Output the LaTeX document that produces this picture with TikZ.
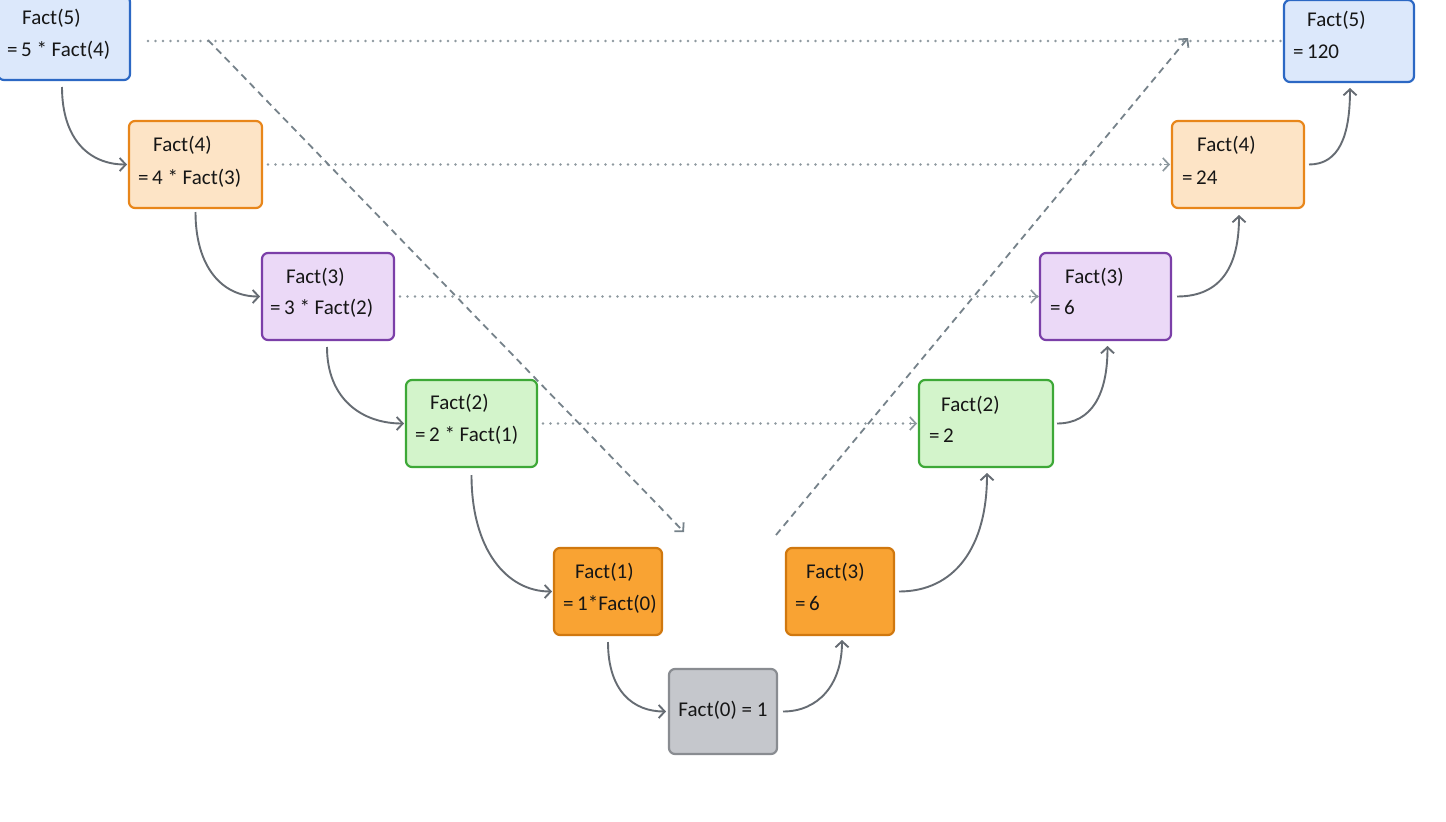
\documentclass[tikz,border=0pt]{standalone}
\usepackage{fontspec}
\setmainfont{Carlito}
\usetikzlibrary{arrows.meta,backgrounds}
\definecolor{bluefill}{HTML}{DCE8FB}
\definecolor{blueline}{HTML}{2C68C4}
\definecolor{lofill}{HTML}{FDE4C6}
\definecolor{loline}{HTML}{E8861A}
\definecolor{pufill}{HTML}{EBD9F7}
\definecolor{puline}{HTML}{7B3FA8}
\definecolor{grfill}{HTML}{D3F4CB}
\definecolor{grline}{HTML}{3DA837}
\definecolor{orfill}{HTML}{F9A333}
\definecolor{orline}{HTML}{D0780F}
\definecolor{gyfill}{HTML}{C5C7CC}
\definecolor{gyline}{HTML}{898C91}
\definecolor{arr}{HTML}{666C73}
\definecolor{dotc}{HTML}{8E999F}
\definecolor{dashc}{HTML}{76828A}
\definecolor{txt}{HTML}{161616}
\tikzset{
  box/.style={rectangle, rounded corners=6pt, line width=2.2pt, inner sep=0pt, outer sep=0pt},
  bluebox/.style={box, fill=bluefill, draw=blueline},
  lobox/.style={box, fill=lofill, draw=loline},
  pubox/.style={box, fill=pufill, draw=puline},
  grbox/.style={box, fill=grfill, draw=grline},
  orbox/.style={box, fill=orfill, draw=orline},
  gybox/.style={box, fill=gyfill, draw=gyline},
  txtline/.style={anchor=west, inner sep=0pt, text=txt, font=\fontsize{21}{25}\selectfont, text height=14pt, text depth=5pt},
  tip/.style={-{Straight Barb[length=6pt,width=13pt]}},
  flow/.style={draw=arr, line width=1.9pt, tip},
  dotline/.style={draw=dotc, line width=2.8pt, line cap=round, dash pattern=on 0pt off 7.5pt},
  dashline/.style={draw=dashc, line width=1.8pt, dash pattern=on 7pt off 5pt},
}
\begin{document}
\begin{tikzpicture}[x=1pt,y=-1pt]
\useasboundingbox (0,0) rectangle (1446,822);
\clip (0,0) rectangle (1446,822);
% boxes
\node[bluebox, minimum width=132pt, minimum height=84pt] (L5) at (64,38) {};
\node[lobox,   minimum width=133pt, minimum height=87pt] (L4) at (195.5,164.5) {};
\node[pubox,   minimum width=132pt, minimum height=87pt] (L3) at (328,296.5) {};
\node[grbox,   minimum width=131pt, minimum height=87pt] (L2) at (471.5,423.5) {};
\node[orbox,   minimum width=108pt, minimum height=87pt] (L1) at (608,591.5) {};
\node[gybox,   minimum width=108pt, minimum height=85pt] (B)  at (723,711.5) {};
\node[orbox,   minimum width=108pt, minimum height=87pt] (R1) at (840,591.5) {};
\node[grbox,   minimum width=134pt, minimum height=87pt] (R2) at (986,423.5) {};
\node[pubox,   minimum width=131pt, minimum height=87pt] (R3) at (1105.5,296.5) {};
\node[lobox,   minimum width=132pt, minimum height=87pt] (R4) at (1238,164.5) {};
\node[bluebox, minimum width=130pt, minimum height=82pt] (R5) at (1349,41) {};
% texts
\node[txtline] (t5a) at (22,20) {Fact(5)};
\node[txtline] (t5b) at (7,52) {=\,5 * Fact(4)};
\node[txtline] (t4a) at (153,147) {Fact(4)};
\node[txtline] (t4b) at (138,180) {=\,4 * Fact(3)};
\node[txtline] (t3a) at (286,279) {Fact(3)};
\node[txtline] (t3b) at (270,310) {=\,3 * Fact(2)};
\node[txtline] (t2a) at (430,405) {Fact(2)};
\node[txtline] (t2b) at (415,437) {=\,2 * Fact(1)};
\node[txtline] (t1a) at (575,574) {Fact(1)};
\node[txtline] (t1b) at (563,606) {=\,1*Fact(0)};
\node[txtline, anchor=center] (t0) at (B.center) {Fact(0) = 1};
\node[txtline] (u1a) at (806,574) {Fact(3)};
\node[txtline] (u1b) at (795,606) {=\,6};
\node[txtline] (u2a) at (941,407) {Fact(2)};
\node[txtline] (u2b) at (929,438) {=\,2};
\node[txtline] (u3a) at (1065,279) {Fact(3)};
\node[txtline] (u3b) at (1050,310) {=\,6};
\node[txtline] (u4a) at (1197,147) {Fact(4)};
\node[txtline] (u4b) at (1182,180) {=\,24};
\node[txtline] (u5a) at (1307,22) {Fact(5)};
\node[txtline] (u5b) at (1293,54) {=\,120};
% helper coordinates
\coordinate (d5s) at ([xshift=18pt]L5.east);
\coordinate (d5e) at ([xshift=-3pt]R5.west);
\coordinate (g1s) at (208,40);
\coordinate (g1e) at ([xshift=22pt,yshift=16pt]L1.north east);
\coordinate (g2s) at ([xshift=-10pt,yshift=13pt]R1.north west);
\coordinate (g2e) at ([xshift=-96pt,yshift=3pt]R5.west);
\begin{pgfonlayer}{background}
\fill[white] (0,0) rectangle (1446,822);
% dotted horizontals
\draw[dotline] (d5s |- d5e) -- (d5e);
\draw[dotline] ([xshift=6pt]L4.east) -- ([xshift=-2pt]R4.west);
\draw[dotline] ([xshift=6pt]L3.east) -- ([xshift=-2pt]R3.west);
\draw[dotline] ([xshift=6pt]L2.east) -- ([xshift=-2pt]R2.west);
\draw[draw=dotc, line width=1.7pt, tip] ([xshift=-8pt]R4.west) -- ([xshift=-2pt]R4.west);
\draw[draw=dotc, line width=1.7pt, tip] ([xshift=-8pt]R3.west) -- ([xshift=-2pt]R3.west);
\draw[draw=dotc, line width=1.7pt, tip] ([xshift=-8pt]R2.west) -- ([xshift=-2pt]R2.west);
% dashed diagonals
\draw[dashline, tip] (g1s) -- (g1e);
\draw[dashline, tip] (g2s) -- (g2e);
\end{pgfonlayer}
% flow arrows, left descent
\draw[flow] ([xshift=-2pt,yshift=-7pt]L5.south) .. controls +(0,52) and +(-38,0) .. ([xshift=-2pt]L4.west);
\draw[flow] ([yshift=-4pt]L4.south) .. controls +(0,55) and +(-38,0) .. ([xshift=-2pt]L3.west);
\draw[flow] ([xshift=-1pt,yshift=-7pt]L3.south) .. controls +(0,52) and +(-42,0) .. ([xshift=-2pt]L2.west);
\draw[flow] ([yshift=-8pt]L2.south) .. controls +(0,75) and +(-45,0) .. ([xshift=-2pt]L1.west);
\draw[flow] ([yshift=-7pt]L1.south) .. controls +(0,50) and +(-32,0) .. ([xshift=-3pt]B.west);
% flow arrows, right ascent
\draw[flow] ([xshift=6pt]B.east) .. controls +(35,0) and +(0,45) .. ([xshift=2pt,yshift=-5pt]R1.south);
\draw[flow] ([xshift=5pt]R1.east) .. controls +(55,0) and +(0,75) .. ([xshift=1pt,yshift=-6pt]R2.south);
\draw[flow] ([xshift=4pt]R2.east) .. controls +(35,0) and +(0,48) .. ([xshift=2pt,yshift=-6pt]R3.south);
\draw[flow] ([xshift=6pt]R3.east) .. controls +(45,0) and +(0,50) .. ([xshift=1pt,yshift=-7pt]R4.south);
\draw[flow] ([xshift=5pt]R4.east) .. controls +(30,0) and +(0,48) .. ([xshift=1pt,yshift=-6pt]R5.south);
\end{tikzpicture}
\end{document}
